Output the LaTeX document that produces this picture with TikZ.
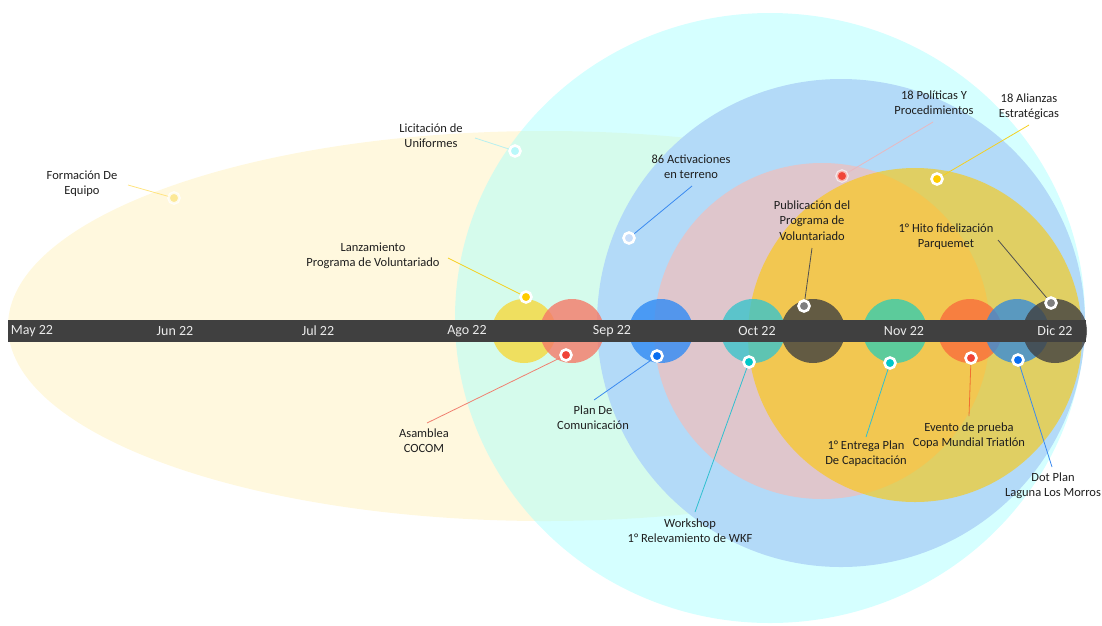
\documentclass[tikz,border=0pt]{standalone}
\usepackage{fontspec}
\setmainfont{Carlito}
\definecolor{cream}{RGB}{255,248,222}
\definecolor{cyanc}{RGB}{162,255,255}
\definecolor{bluec}{RGB}{179,218,248}
\definecolor{pinkc}{RGB}{223,198,204}
\definecolor{goldc}{RGB}{255,200,0}
\definecolor{ecA}{RGB}{246,217,60}
\definecolor{ecB}{RGB}{245,121,104}
\definecolor{ecC}{RGB}{48,139,244}
\definecolor{ecD}{RGB}{58,196,203}
\definecolor{ecE}{RGB}{64,64,64}
\definecolor{ecF}{RGB}{55,204,174}
\definecolor{ecG}{RGB}{249,110,60}
\definecolor{ecH}{RGB}{57,140,215}
\definecolor{barc}{RGB}{64,64,64}
\definecolor{barlbl}{RGB}{235,235,235}
\definecolor{txt}{RGB}{30,30,30}
\definecolor{dPaleY}{RGB}{252,232,150}
\definecolor{dPaleC}{RGB}{185,248,250}
\definecolor{dGold}{RGB}{255,204,0}
\definecolor{dRed}{RGB}{240,68,56}
\definecolor{dBlue}{RGB}{10,110,240}
\definecolor{dCyan}{RGB}{0,198,200}
\definecolor{dPaleB}{RGB}{200,222,250}
\definecolor{dGrey}{RGB}{127,127,127}
\definecolor{lPaleY}{RGB}{255,228,128}
\definecolor{lPaleC}{RGB}{184,240,240}
\definecolor{lGold}{RGB}{245,208,32}
\definecolor{lSalmon}{RGB}{240,128,112}
\definecolor{lBlue}{RGB}{58,138,240}
\definecolor{lTeal}{RGB}{48,192,208}
\definecolor{lDark}{RGB}{80,80,80}
\definecolor{lPink}{RGB}{232,184,192}
\definecolor{lOrange}{RGB}{240,112,48}
\begin{document}
\begin{tikzpicture}[x=1pt,y=-1pt,
  lbl/.style={font=\fontsize{12.5}{15.3}\selectfont, text=txt, align=center, inner sep=0pt},
  mon/.style={font=\fontsize{14}{16}\selectfont, text=barlbl, inner sep=0pt},
  evc/.style={circle, inner sep=0pt, minimum size=64pt, fill opacity=0.8},
  dotn/.style={circle, inner sep=0pt, minimum size=11pt, draw=white, line width=2.6pt},
  lead/.style={line width=0.8pt},
]
\useasboundingbox (0,0) rectangle (1102,625);
% background zones
\fill[cream] (545,326) ellipse [x radius=537pt, y radius=195pt];
\fill[cyanc, fill opacity=0.45] (770,318) ellipse [x radius=315pt, y radius=305pt];
\fill[bluec] (841,323) circle [radius=244pt];
\fill[pinkc] (822,331) circle [radius=168pt];
\fill[goldc, fill opacity=0.6] (915,335) circle [radius=167pt];
% event circles
\node[evc, fill=ecA] (e1) at (524,331) {};
\node[evc, fill=ecB] (e2) at (572,331) {};
\node[evc, fill=ecC] (e3) at (661,331) {};
\node[evc, fill=ecD] (e4) at (753,331) {};
\node[evc, fill=ecE] (e5) at (813,331) {};
\node[evc, fill=ecF] (e6) at (895,331) {};
\node[evc, fill=ecG] (e7) at (970,331) {};
\node[evc, fill=ecH] (e8) at (1017,331) {};
\node[evc, fill=ecE] (e9) at (1055,331) {};
% timeline bar
\node[fill=barc, minimum width=1078pt, minimum height=22pt, inner sep=0pt] (bar) at (547,331) {};
\node[mon] (mMay) at (32,331) {May 22};
\node[mon] (mJun) at (175,331) {Jun 22};
\node[mon] (mJul) at (318,331) {Jul 22};
\node[mon] (mAgo) at (467,331) {Ago 22};
\node[mon] (mSep) at (612,331) {Sep 22};
\node[mon] (mOct) at (757,331) {Oct 22};
\node[mon] (mNov) at (904,331) {Nov 22};
\node[mon] (mDic) at (1055,331) {Dic 22};
% dot positions
\coordinate (pForm) at (174,198);
\coordinate (pLic) at (515,151);
\coordinate (pLanz) at (526,297);
\coordinate (pAsam) at (566,355);
\coordinate (pPlan) at (657,356);
\coordinate (pWork) at (749,362);
\coordinate (pAct) at (629,238);
\coordinate (pPub) at (804,306);
\coordinate (pPol) at (842,176);
\coordinate (pAli) at (937,179);
\coordinate (pHito) at (1051,303);
\coordinate (pEnt) at (890,363);
\coordinate (pEv) at (971,358);
\coordinate (pDot) at (1018,360);
% leader start points
\coordinate (sForm) at (128,185);
\coordinate (sLic) at (475,138);
\coordinate (sLanz) at (448,258);
\coordinate (sAsam) at (427,423);
\coordinate (sPlan) at (594,400);
\coordinate (sWork) at (695,512);
\coordinate (sAct) at (692,186);
\coordinate (sPub) at (812,248);
\coordinate (sPol) at (933,122);
\coordinate (sAli) at (1029,125);
\coordinate (sHito) at (998,240);
\coordinate (sEnt) at (866,437);
\coordinate (sEv) at (969,416);
\coordinate (sDot) at (1052,467);
% leaders
\draw[lead, lPaleY] (sForm) -- (pForm);
\draw[lead, lPaleC] (sLic) -- (pLic);
\draw[lead, lGold] (sLanz) -- (pLanz);
\draw[lead, lSalmon] (sAsam) -- (pAsam);
\draw[lead, lBlue] (sPlan) -- (pPlan);
\draw[lead, lTeal] (sWork) -- (pWork);
\draw[lead, lBlue] (sAct) -- (pAct);
\draw[lead, lDark] (sPub) -- (pPub);
\draw[lead, lPink] (sPol) -- (pPol);
\draw[lead, lGold] (sAli) -- (pAli);
\draw[lead, lDark] (sHito) -- (pHito);
\draw[lead, lTeal] (sEnt) -- (pEnt);
\draw[lead, lOrange] (sEv) -- (pEv);
\draw[lead, lBlue] (sDot) -- (pDot);
% dots
\node[dotn, fill=dPaleY, draw opacity=0.8] (dForm) at (pForm) {};
\node[dotn, fill=dPaleC] (dLic) at (pLic) {};
\node[dotn, fill=dGold] (dLanz) at (pLanz) {};
\node[dotn, fill=dRed] (dAsam) at (pAsam) {};
\node[dotn, fill=dBlue] (dPlan) at (pPlan) {};
\node[dotn, fill=dCyan] (dWork) at (pWork) {};
\node[dotn, fill=dPaleB] (dAct) at (pAct) {};
\node[dotn, fill=dGrey] (dPub) at (pPub) {};
\node[dotn, fill=dRed, draw opacity=0.6] (dPol) at (pPol) {};
\node[dotn, fill=dGold] (dAli) at (pAli) {};
\node[dotn, fill=dGrey] (dHito) at (pHito) {};
\node[dotn, fill=dCyan] (dEnt) at (pEnt) {};
\node[dotn, fill=dRed] (dEv) at (pEv) {};
\node[dotn, fill=dBlue] (dDot) at (pDot) {};
% labels
\node[lbl] (tForm) at (82,183.5) {Formación De\\Equipo};
\node[lbl] (tLic) at (431,136) {Licitación de\\Uniformes};
\node[lbl] (tLanz) at (373,256) {Lanzamiento\\Programa de Voluntariado};
\node[lbl] (tAsam) at (424,440.5) {Asamblea\\COCOM};
\node[lbl] (tPlan) at (593,418) {Plan De\\Comunicación};
\node[lbl] (tWork) at (690,530.5) {Workshop\\1° Relevamiento de WKF};
\node[lbl] (tAct) at (691,167) {86 Activaciones\\en terreno};
\node[lbl] (tPub) at (812,220.5) {Publicación del\\Programa de\\Voluntariado};
\node[lbl] (tPol) at (934,103) {18 Políticas Y\\Procedimientos};
\node[lbl] (tAli) at (1029,106.5) {18 Alianzas\\Estratégicas};
\node[lbl] (tHito) at (946,236.5) {1° Hito fidelización\\Parquemet};
\node[lbl] (tEnt) at (866,454) {1° Entrega Plan\\De Capacitación};
\node[lbl] (tEv) at (969,435.5) {Evento de prueba\\Copa Mundial Triatlón};
\node[lbl] (tDot) at (1053,485.5) {Dot Plan\\Laguna Los Morros};
\end{tikzpicture}
\end{document}
